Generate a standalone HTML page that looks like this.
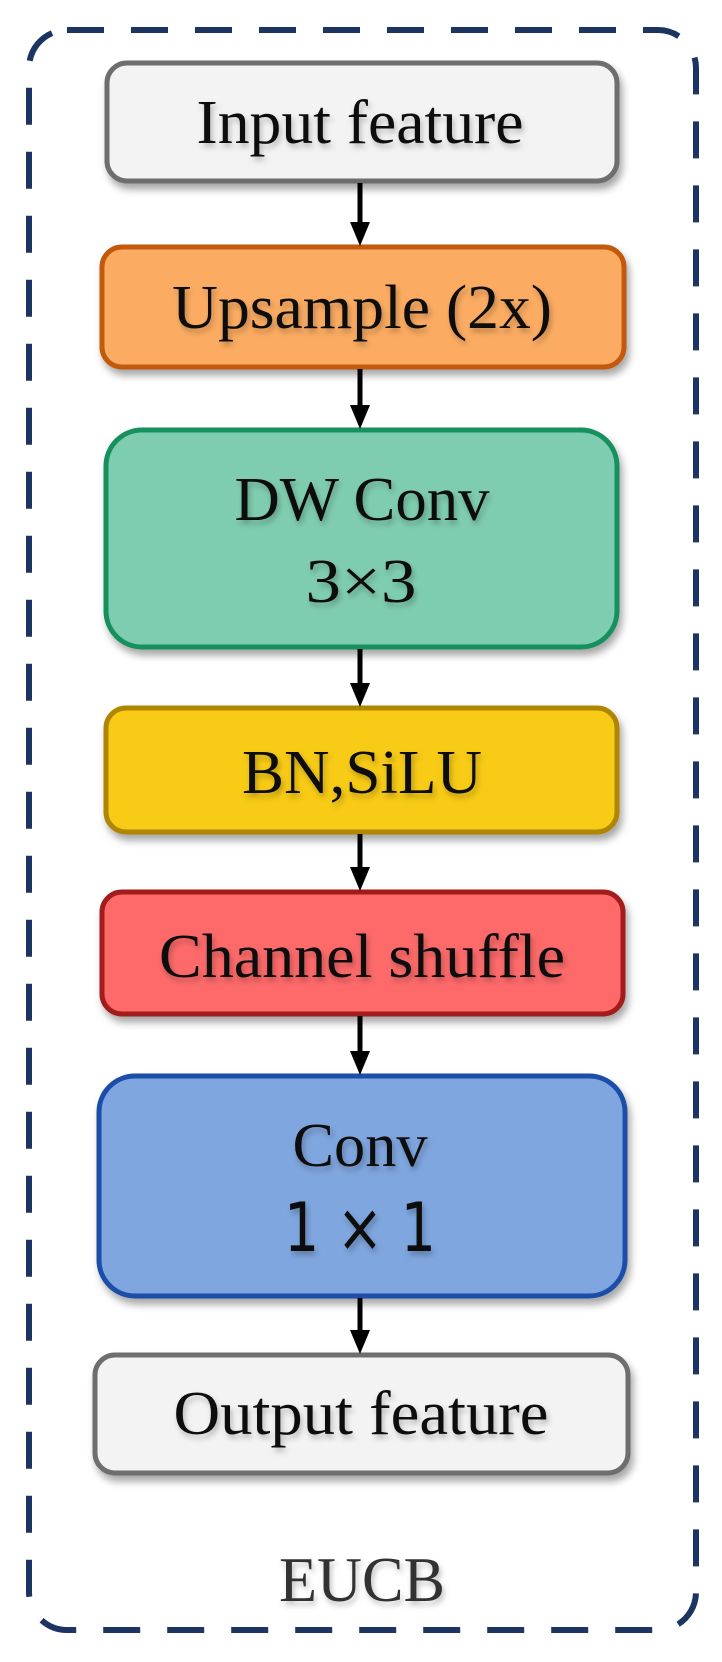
<!DOCTYPE html>
<html><head><meta charset="utf-8"><style>
html,body{margin:0;padding:0;background:#fff;}
svg{display:block;}
text{font-family:"Liberation Serif",serif;fill:#111;}
</style></head><body>
<svg width="722" height="1662" viewBox="0 0 722 1662" xmlns="http://www.w3.org/2000/svg">
<defs>
<filter id="sh" x="-10%" y="-10%" width="125%" height="130%"><feDropShadow dx="3" dy="6" stdDeviation="4" flood-color="#000" flood-opacity="0.35"/></filter>
<filter id="ts" x="-10%" y="-20%" width="130%" height="150%"><feDropShadow dx="2" dy="4" stdDeviation="3" flood-color="#000" flood-opacity="0.25"/></filter>
</defs>
<rect x="29" y="30" width="667" height="1600" rx="38" fill="none" stroke="#1b3461" stroke-width="6" stroke-dasharray="37 27"/>

<g stroke-width="5" filter="url(#sh)">
<rect x="107" y="63" width="510" height="118" rx="20" fill="#f3f3f3" stroke="#6e6e6e"/>
<rect x="102" y="247" width="522" height="120" rx="20" fill="#fcac62" stroke="#c25a10"/>
<rect x="106" y="430" width="511" height="217" rx="36" fill="#7fcdb0" stroke="#17905d"/>
<rect x="106" y="708" width="511" height="124" rx="20" fill="#f8cb16" stroke="#b08600"/>
<rect x="102" y="892" width="521" height="122" rx="20" fill="#fe6b6b" stroke="#a21a1a"/>
<rect x="99" y="1076" width="526" height="220" rx="36" fill="#7fa6df" stroke="#1c4ea8"/>
<rect x="95" y="1355" width="533" height="118" rx="20" fill="#f3f3f3" stroke="#6e6e6e"/>
</g>

<g stroke="#000" stroke-width="5">
<line x1="360" y1="183" x2="360" y2="225"/>
<line x1="360" y1="369" x2="360" y2="408"/>
<line x1="360" y1="649" x2="360" y2="686"/>
<line x1="360" y1="834" x2="360" y2="870"/>
<line x1="360" y1="1016" x2="360" y2="1054"/>
<line x1="360" y1="1298" x2="360" y2="1333"/>
</g>
<g fill="#000">
<polygon points="350,222 370,222 360,246"/>
<polygon points="350,405 370,405 360,429"/>
<polygon points="350,683 370,683 360,707"/>
<polygon points="350,867 370,867 360,891"/>
<polygon points="350,1051 370,1051 360,1075"/>
<polygon points="350,1330 370,1330 360,1354"/>
</g>

<g font-size="62" text-anchor="middle" filter="url(#ts)">
<text x="360" y="143" textLength="327" lengthAdjust="spacingAndGlyphs">Input feature</text>
<text x="362" y="328" textLength="380" lengthAdjust="spacingAndGlyphs">Upsample (2x)</text>
<text x="362" y="520" textLength="255" lengthAdjust="spacingAndGlyphs">DW Conv</text>
<text x="361" y="602" textLength="111" lengthAdjust="spacingAndGlyphs">3×3</text>
<text x="362" y="793" textLength="240" lengthAdjust="spacingAndGlyphs">BN,SiLU</text>
<text x="362" y="977" textLength="406" lengthAdjust="spacingAndGlyphs">Channel shuffle</text>
<text x="360" y="1166" textLength="135" lengthAdjust="spacingAndGlyphs">Conv</text>
<text x="360" y="1251" font-size="68" style="font-family:'DejaVu Sans',sans-serif" textLength="152" lengthAdjust="spacingAndGlyphs">1 × 1</text>
<text x="361" y="1434" textLength="375" lengthAdjust="spacingAndGlyphs">Output feature</text>
<text x="362" y="1601" font-size="64" fill="#333" style="fill:#333" textLength="166" lengthAdjust="spacingAndGlyphs">EUCB</text>
</g>
</svg>
</body></html>
